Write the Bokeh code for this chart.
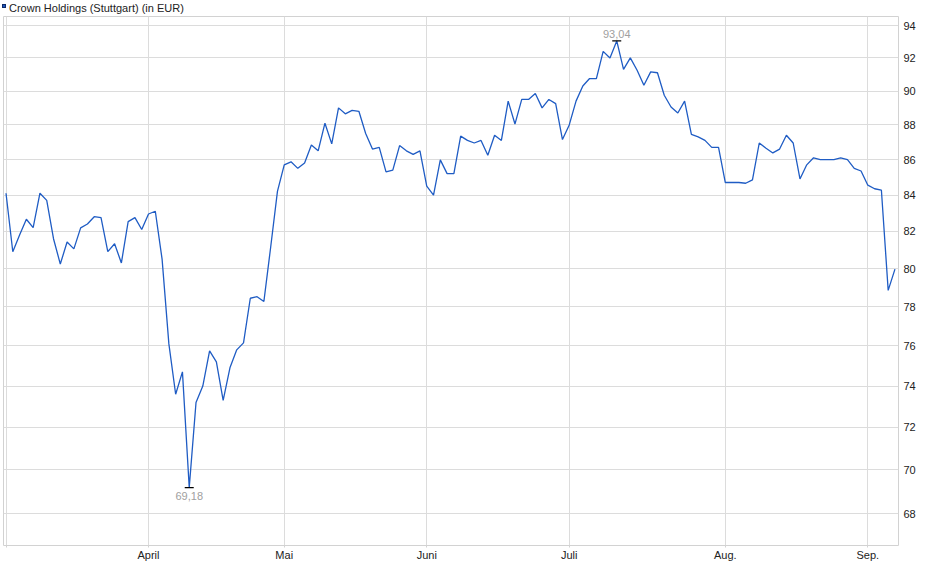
import numpy as np
import pandas as pd
from bokeh.plotting import figure
from bokeh.layouts import column
from bokeh.models import (Range1d, FixedTicker, PrintfTickFormatter, Div)
from bokeh.embed import file_html
from bokeh.resources import INLINE
from bokeh.core.properties import value

# ---------------- data ----------------
series_label = "Crown Holdings (Stuttgart) (in EUR)"
start_date = "2025-03-03"
end_date = "2025-09-05"
exchange_holidays = ["2025-04-18", "2025-04-21", "2025-05-01"]
month_labels = {3: "", 4: "April", 5: "Mai", 6: "Juni", 7: "Juli", 8: "Aug.", 9: "Sep."}
y_ticks = [68, 70, 72, 74, 76, 78, 80, 82, 84, 86, 88, 90, 92, 94]

prices = [
    84.10, 80.90, 81.80, 82.66, 82.20, 84.10, 83.70, 81.60, 80.24, 81.42,
    81.05, 82.19, 82.40, 82.80, 82.75, 80.90, 81.33, 80.30, 82.53, 82.75,
    82.10, 82.95, 83.10, 80.50, 76.10, 73.60, 74.70, 69.18, 73.20, 74.00,
    75.75, 75.20, 73.30, 74.90, 75.80, 76.15, 78.44, 78.52, 78.27, 81.14,
    84.20, 85.70, 85.87, 85.50, 85.80, 86.83, 86.50, 88.10, 86.90, 89.00,
    88.65, 88.85, 88.80, 87.50, 86.60, 86.70, 85.30, 85.40, 86.80, 86.50,
    86.30, 86.50, 84.50, 84.00, 85.98, 85.20, 85.20, 87.35, 87.10, 86.95,
    87.10, 86.25, 87.40, 87.10, 89.40, 88.05, 89.50, 89.50, 89.85, 89.00,
    89.50, 89.25, 87.15, 88.00, 89.40, 90.30, 90.75, 90.75, 92.40, 92.00,
    93.04, 91.30, 92.00, 91.25, 90.35, 91.15, 91.10, 89.75, 89.05, 88.70,
    89.40, 87.45, 87.30, 87.10, 86.70, 86.70, 84.70, 84.70, 84.70, 84.66,
    84.85, 86.95, 86.65, 86.38, 86.60, 87.40, 86.95, 84.90, 85.70, 86.10,
    86.00, 86.00, 86.00, 86.10, 86.00, 85.50, 85.35, 84.55, 84.35, 84.27,
    78.85, 79.97,
]

# trading days (index axis, no gaps)
dates = pd.bdate_range(start_date, end_date)
dates = dates[~dates.isin(pd.to_datetime(exchange_holidays))]
idx = np.arange(len(prices))
months = np.array([d.month for d in dates])
month_starts = [int(i) for i in idx if i == 0 or months[i] != months[i - 1]]

FONT = "Liberation Sans"
LINE_COLOR = "#1f5cc4"

# ---------------- legend header ----------------
W = 930
HEAD_H = 14
header = Div(
    text=(
        f'<div style="font-family:\'{FONT}\';font-size:11px;line-height:13px;'
        f'color:#222222;white-space:nowrap;margin:0;padding:0;">'
        f'<span style="display:inline-block;width:4px;height:4px;background:#2057c0;'
        f'border:1px solid #0d2a66;margin-left:2px;margin-right:3px;'
        f'vertical-align:4px;"></span>{series_label}</div>'
    ),
    width=W, height=HEAD_H, margin=(0, 0, 0, 0),
)

# ---------------- figure ----------------
H = 575 - HEAD_H
p = figure(
    width=W, height=H,
    x_range=Range1d(-0.37, 131.52),
    y_range=Range1d(66.572, 94.563),
    y_axis_type="log", y_axis_location="right",
    output_backend="svg", toolbar_location=None,
    background_fill_color="white", border_fill_color="white",
    margin=(0, 0, 0, 0),
)
p.min_border_left = 3
p.min_border_right = W - 898
p.min_border_top = 16 - HEAD_H
p.min_border_bottom = (575 - 545)
p.outline_line_color = "#d2d2d2"

# x axis
p.xaxis.ticker = FixedTicker(ticks=month_starts)
p.xaxis.major_label_overrides = {i: month_labels[int(months[i])] for i in month_starts}
p.xaxis.axis_line_color = None
p.xaxis.major_tick_in = 0
p.xaxis.major_tick_out = 2
p.xaxis.major_tick_line_color = "#d2d2d2"
p.xaxis.minor_tick_line_color = None
p.xaxis.major_label_standoff = 1
p.xaxis.major_label_text_font = FONT
p.xaxis.major_label_text_font_size = "11px"
p.xaxis.major_label_text_color = "#222222"

# y axis
p.yaxis.ticker = FixedTicker(ticks=y_ticks)
p.yaxis.formatter = PrintfTickFormatter(format="%d")
p.yaxis.axis_line_color = None
p.yaxis.major_tick_in = 0
p.yaxis.major_tick_out = 0
p.yaxis.minor_tick_line_color = None
p.yaxis.major_label_standoff = 5
p.yaxis.major_label_text_font = FONT
p.yaxis.major_label_text_font_size = "11px"
p.yaxis.major_label_text_color = "#222222"

p.xgrid.grid_line_color = "#dcdcdc"
p.ygrid.grid_line_color = "#dcdcdc"

# price line
p.line(idx, prices, line_color=LINE_COLOR, line_width=1.3)

# max / min markers
imax = int(np.argmax(prices))
imin = int(np.argmin(prices))
p.scatter([imax, imin], [prices[imax], prices[imin]], marker="dash", size=9,
          line_color="black", line_width=1.3)
fmt = lambda v: f"{v:.2f}".replace(".", ",")
p.text(x=[imax], y=[prices[imax]], text=[fmt(prices[imax])], text_align="center",
       text_baseline="bottom", y_offset=-3, text_color="#a0a0a0",
       text_font_size="11px", text_font=value(FONT))
p.text(x=[imin], y=[prices[imin]], text=[fmt(prices[imin])], text_align="center",
       text_baseline="top", y_offset=4, text_color="#a0a0a0",
       text_font_size="11px", text_font=value(FONT))

layout = column(header, p, spacing=0, margin=(0, 0, 0, 0))

open("out.html", "w").write(file_html(layout, INLINE))
